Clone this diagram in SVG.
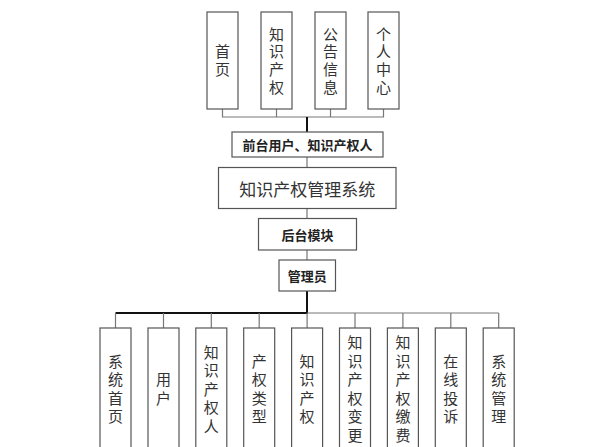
<svg xmlns="http://www.w3.org/2000/svg" width="600" height="447" viewBox="0 0 600 447">
<style>
.box{fill:#fff;stroke:#555;stroke-width:1.2}
.t{font-family:"Noto Sans CJK SC","Noto Sans",sans-serif;fill:#333;text-anchor:middle;dominant-baseline:central}
.v{font-size:15px;writing-mode:vertical-rl;text-orientation:upright}
.vt{letter-spacing:2.6px}
.vb{letter-spacing:3.5px}
.b{font-size:13px;font-weight:bold;fill:#222}
.big{font-size:17px}
.thin{stroke:#777;stroke-width:1.2;fill:none}
.dark{stroke:#111;stroke-width:2;fill:none}
</style>
<rect width="600" height="447" fill="#fff"/>
<g id="connectors">
<path class="thin" d="M222.5 109V117H383.5V109M276.5 109V117M330.5 109V117"/>
<path class="dark" d="M307 117V132"/>
<path class="thin" d="M307 157V167.5M307 209V218.5M307 250V260"/>
<path class="dark" d="M307 291V313H115.5"/>
<path class="thin" d="M307 313H498.7"/>
<path class="thin" d="M115.5 313V328M163.5 313V328M211.3 313V328M259.2 313V328M307.1 313V328M355 313V328M402.9 313V328M450.8 313V328M498.7 313V328"/>
</g>
<g id="n-shouye"><rect class="box" x="207" y="12" width="31" height="97"/><text class="t v vt" x="222.5" y="61.8">首页</text></g>
<g id="n-zscq"><rect class="box" x="261" y="12" width="31" height="97"/><text class="t v vt" x="276.5" y="61.8">知识产权</text></g>
<g id="n-gonggao"><rect class="box" x="315" y="12" width="31" height="97"/><text class="t v vt" x="330.5" y="61.8">公告信息</text></g>
<g id="n-geren"><rect class="box" x="368" y="12" width="31" height="97"/><text class="t v vt" x="383.5" y="61.8">个人中心</text></g>
<g id="n-qiantai"><rect class="box" x="232" y="132" width="151" height="25"/><text class="t b" x="307.5" y="144.5">前台用户、知识产权人</text></g>
<g id="n-system"><rect class="box" x="218.5" y="167.5" width="177.5" height="41"/><text class="t big" x="307.3" y="188">知识产权管理系统</text></g>
<g id="n-houtai"><rect class="box" x="258.5" y="218.5" width="98" height="31.5"/><text class="t b" x="307.5" y="234.2">后台模块</text></g>
<g id="n-admin"><rect class="box" x="279" y="260" width="56.5" height="31"/><text class="t b" x="307.2" y="275.5">管理员</text></g>
<g id="n-b1"><rect class="box" x="100" y="328" width="31" height="124"/><text class="t v vb" x="115.5" y="390.7">系统首页</text></g>
<g id="n-b2"><rect class="box" x="148" y="328" width="31" height="124"/><text class="t v vb" x="163.5" y="390.7">用户</text></g>
<g id="n-b3"><rect class="box" x="195.8" y="328" width="31" height="124"/><text class="t v vb" x="211.3" y="390.7">知识产权人</text></g>
<g id="n-b4"><rect class="box" x="243.7" y="328" width="31" height="124"/><text class="t v vb" x="259.2" y="390.7">产权类型</text></g>
<g id="n-b5"><rect class="box" x="291.6" y="328" width="31" height="124"/><text class="t v vb" x="307.1" y="390.7">知识产权</text></g>
<g id="n-b6"><rect class="box" x="339.5" y="328" width="31" height="124"/><text class="t v vb" x="355" y="390.7">知识产权变更</text></g>
<g id="n-b7"><rect class="box" x="387.4" y="328" width="31" height="124"/><text class="t v vb" x="402.9" y="390.7">知识产权缴费</text></g>
<g id="n-b8"><rect class="box" x="435.3" y="328" width="31" height="124"/><text class="t v vb" x="450.8" y="390.7">在线投诉</text></g>
<g id="n-b9"><rect class="box" x="483.2" y="328" width="31" height="124"/><text class="t v vb" x="498.7" y="390.7">系统管理</text></g>
</svg>
